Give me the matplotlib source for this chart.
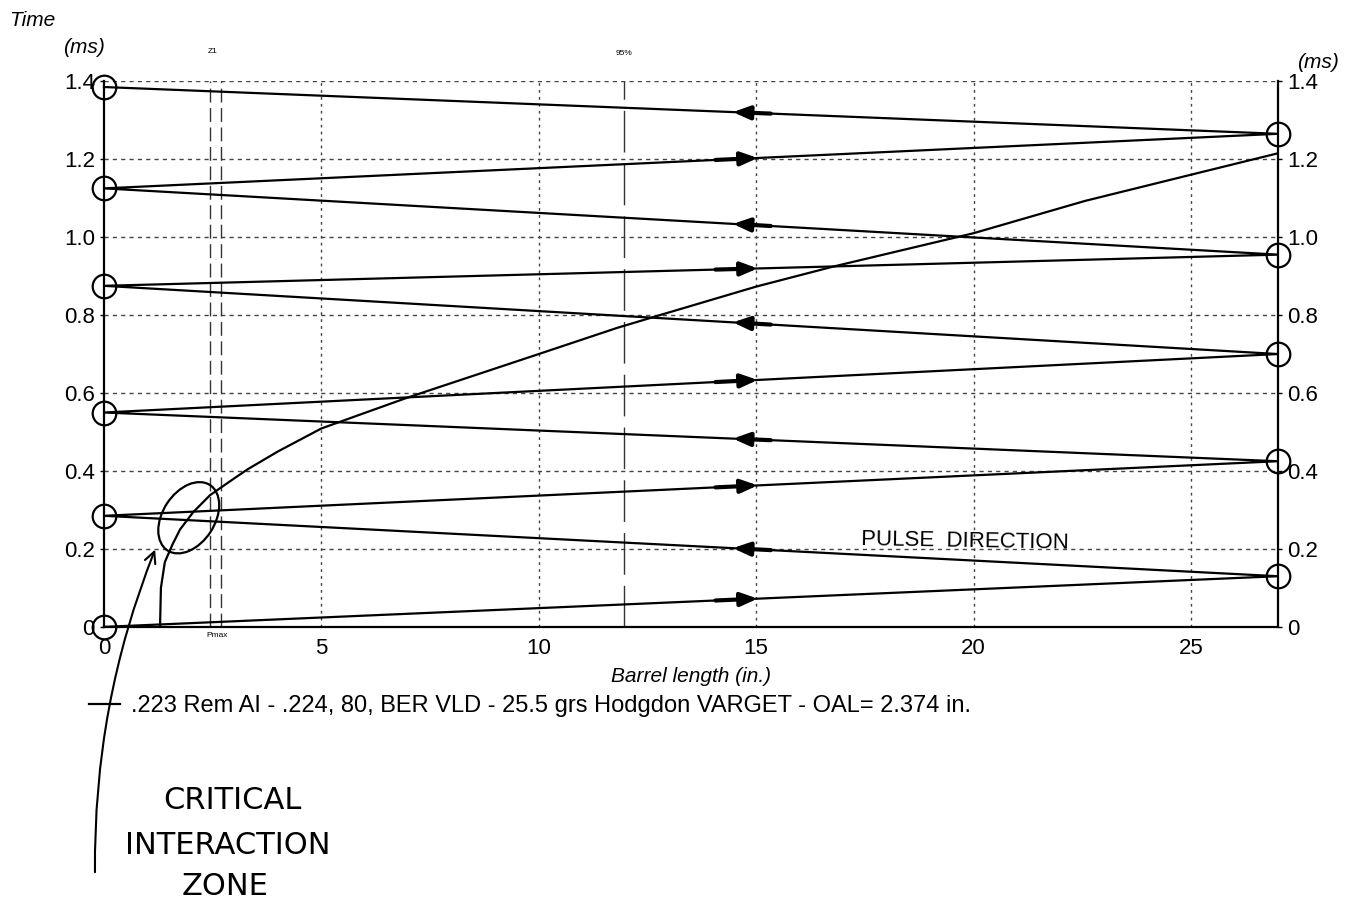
import numpy as np
import matplotlib.pyplot as plt
from matplotlib.patches import Ellipse
from matplotlib.transforms import ScaledTranslation, blended_transform_factory

plt.rcParams['font.family'] = ['Liberation Sans', 'DejaVu Sans']

# pressure pulse bouncing between breech (0 in.) and muzzle (27 in.)
pulse_x = [0, 27, 0, 27, 0, 27, 0, 27, 0, 27, 0]
pulse_t = [0.0, 0.13, 0.285, 0.425, 0.55, 0.70, 0.875, 0.955, 1.125, 1.265, 1.385]

# bullet travel (barrel position vs time)
bullet_x = [1.29, 1.31, 1.40, 1.57, 1.75, 2.05, 2.44, 2.97, 3.3, 4.0, 5.0, 6.95, 10.0,
            11.8, 12.67, 15.0, 16.76, 20.0, 22.57, 25.0, 27.0]
bullet_t = [0.0, 0.10, 0.166, 0.21, 0.25, 0.294, 0.338, 0.379, 0.404, 0.45, 0.509, 0.587, 0.70,
            0.767, 0.796, 0.873, 0.924, 1.01, 1.093, 1.16, 1.215]

z1_x = [2.45, 2.7]
x95 = 11.95

xticks = [0, 5, 10, 15, 20, 25]
yticks = [0, 0.2, 0.4, 0.6, 0.8, 1.0, 1.2, 1.4]
ytick_labels = ['0', '0.2', '0.4', '0.6', '0.8', '1.0', '1.2', '1.4']
legend_text = ".223 Rem AI - .224, 80, BER VLD - 25.5 grs Hodgdon VARGET - OAL= 2.374 in."

fig = plt.figure(figsize=(13.5, 9.02), dpi=100)
ax = fig.add_axes([0.077, 0.305, 0.8696, 0.605])
ax.set_xlim(0, 27)
ax.set_ylim(0, 1.4)

# grid
for gx in xticks[1:]:
    ax.axvline(gx, color='#444444', lw=1, ls=(0, (2, 3)), zorder=1)
for gy in yticks[1:]:
    ax.axhline(gy, color='#444444', lw=1, ls=(0, (3, 3)), zorder=1)

# Z1 / Pmax and 95% markers
for zx in z1_x:
    ax.axvline(zx, color='#333333', lw=1, ls=(0, (10, 4)), zorder=1)
ax.axvline(x95, color='#333333', lw=1, ls=(0, (30, 8)), zorder=1)
trans = blended_transform_factory(ax.transData, ax.transAxes)
ax.text(2.5, 1.055, 'Z1', transform=trans, fontsize=6, ha='center', va='center')
ax.text(x95, 1.05, '95%', transform=trans, fontsize=6, ha='center', va='center')
ax.text(2.6, -0.015, 'Pmax', transform=trans, fontsize=6, ha='center', va='center')

# pulse zigzag
ax.plot(pulse_x, pulse_t, color='black', lw=1.6, zorder=3, clip_on=False)
ax.plot(pulse_x, pulse_t, 'o', ms=17, mfc='none', mec='black', mew=1.6, zorder=4, clip_on=False)

# direction arrows drawn at 15 in.
for i in range(len(pulse_x) - 1):
    x0, t0, x1, t1 = pulse_x[i], pulse_t[i], pulse_x[i + 1], pulse_t[i + 1]
    slope = (t1 - t0) / (x1 - x0)
    if x1 > x0:
        xa, xb = 14.0, 15.1
    else:
        xa, xb = 15.4, 14.4
    ax.annotate('', xy=(xb, t0 + (xb - x0) * slope), xytext=(xa, t0 + (xa - x0) * slope),
                arrowprops=dict(arrowstyle='-|>,head_length=1.0,head_width=0.4', color='black', lw=3),
                zorder=5)

# bullet path
ax.plot(bullet_x, bullet_t, color='black', lw=1.6, zorder=3, label=legend_text)

# axes styling
for side in ['left', 'bottom', 'right']:
    ax.spines[side].set_linewidth(1.6)
ax.spines['top'].set_visible(False)
ax.set_xticks(xticks)
ax.set_yticks(yticks)
ax.set_yticklabels(ytick_labels)
ax.tick_params(axis='both', labelsize=16, length=3, width=1, right=True, labelright=True)
ax.tick_params(axis='x', length=0, pad=8)

ax.set_xlabel('Barrel length (in.)', fontsize=15, style='italic', labelpad=6)
fig.text(0.007, 0.977, 'Time', fontsize=15, style='italic', ha='left', va='center')
fig.text(0.062, 0.947, '(ms)', fontsize=15, style='italic', ha='center', va='center')
fig.text(0.976, 0.931, '(ms)', fontsize=15, style='italic', ha='center', va='center')

ax.legend(loc='center left', bbox_to_anchor=(0.0575, 0.217), bbox_transform=fig.transFigure,
          frameon=False, fontsize=17, handlelength=1.3, handletextpad=0.45, borderpad=0)

# handwritten notes
ell = Ellipse((0, 0), 0.78, 0.52, angle=57, fill=False, ec='black', lw=1.6,
              transform=fig.dpi_scale_trans + ScaledTranslation(1.95, 0.28, ax.transData),
              clip_on=False, zorder=6)
ax.add_patch(ell)
ax.annotate('', xy=(1.2, 0.205), xycoords='data',
            xytext=(95 / 1350, 1 - 875 / 902), textcoords='figure fraction',
            arrowprops=dict(arrowstyle='->,head_length=0.8,head_width=0.4', color='black', lw=1.5,
                            connectionstyle='arc3,rad=-0.1'))
ax.text(19.8, 0.22, 'PULSE  DIRECTION', fontsize=16, ha='center', va='center', rotation=-1)
fig.text(0.172, 0.113, 'CRITICAL', fontsize=22, ha='center', va='center', family='DejaVu Sans')
fig.text(0.169, 0.063, 'INTERACTION', fontsize=22, ha='center', va='center', family='DejaVu Sans')
fig.text(0.167, 0.017, 'ZONE', fontsize=22, ha='center', va='center', family='DejaVu Sans')

fig.savefig('out.png', dpi=100)
